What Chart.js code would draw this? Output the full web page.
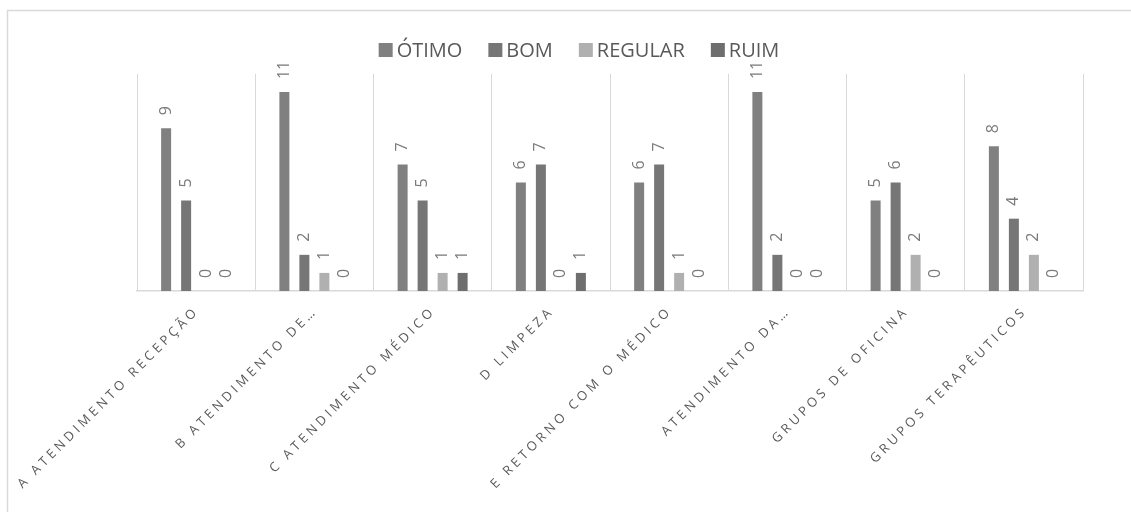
<!DOCTYPE html>
<html><head><meta charset="utf-8">
<script src="https://cdn.jsdelivr.net/npm/chart.js@4"></script>
<style>html,body{margin:0;padding:0;background:#fff;overflow:hidden}#wrap{position:absolute;left:0;top:0;width:1131px;height:512px}</style>
</head><body><div id="wrap"><canvas id="c" width="1131" height="512"></canvas></div>
<script>
const categories = ['A ATENDIMENTO RECEPÇÃO','B ATENDIMENTO DE…','C ATENDIMENTO MÉDICO','D LIMPEZA','E RETORNO COM O MÉDICO','ATENDIMENTO DA…','GRUPOS DE OFICINA','GRUPOS TERAPÊUTICOS'];
const seriesNames = ['ÓTIMO','BOM','REGULAR','RUIM'];
const otimo = [9,11,7,6,6,11,5,8];
const bom = [5,2,5,7,7,2,6,4];
const regular = [0,1,1,0,1,0,2,2];
const ruim = [0,0,1,1,0,0,0,0];
const yMax = 12;
const colors = ['#808080','#767676','#b0b0b0','#6e6e6e'];
const seriesData = [otimo,bom,regular,ruim];

const framePlugin = {
  id:'frame',
  beforeDraw(chart){
    const ctx = chart.ctx;
    ctx.save();
    ctx.fillStyle='#fff';ctx.fillRect(0,0,chart.width,chart.height);
    ctx.strokeStyle='#d9d9d9';ctx.lineWidth=1.5;
    ctx.beginPath();ctx.moveTo(7.5,chart.height);ctx.lineTo(7.5,10.5);ctx.lineTo(chart.width,10.5);ctx.stroke();
    // legend
    ctx.font='20px "Open Sans"';ctx.textBaseline='middle';ctx.textAlign='left';
    const box=14, gap=4, itemGap=26;
    let widths = seriesNames.map(n=>box+gap+ctx.measureText(n).width);
    let total = widths.reduce((a,b)=>a+b,0)+itemGap*(seriesNames.length-1);
    let x = 579 - total/2; const cy = 50;
    seriesNames.forEach((n,i)=>{
      ctx.fillStyle=colors[i];ctx.fillRect(x,cy-7,box,box);
      ctx.fillStyle='#595959';ctx.fillText(n,x+box+gap,cy+1);
      x += widths[i]+itemGap;
    });
    ctx.restore();
  }
};
const labelPlugin = {
  id:'labels',
  afterDatasetsDraw(chart){
    const ctx = chart.ctx;
    ctx.save();
    ctx.font='16px "Open Sans"';ctx.fillStyle='#7a7a7a';ctx.textAlign='left';ctx.textBaseline='middle';
    chart.data.datasets.forEach((ds,di)=>{
      chart.getDatasetMeta(di).data.forEach((bar,i)=>{
        ctx.save();ctx.translate(bar.x, bar.y-13);ctx.rotate(-Math.PI/2);
        ctx.fillText(String(ds.data[i]),0,0);ctx.restore();
      });
    });
    // x labels
    const xs = chart.scales.x;
    ctx.font='13px "Open Sans"';ctx.fillStyle='#595959';ctx.textAlign='right';ctx.textBaseline='middle';
    ctx.letterSpacing='3.6px';
    categories.forEach((c,i)=>{
      const px = xs.getPixelForValue(i);
      ctx.save();ctx.translate(px+1, xs.bottom+18);ctx.rotate(-Math.PI/4);
      ctx.fillText(c,0,0);ctx.restore();
    });
    ctx.restore();
  }
};
new Chart(document.getElementById('c'),{
  type:'bar',
  data:{labels:categories,datasets:seriesNames.map((n,i)=>({label:n,data:seriesData[i],backgroundColor:colors[i],categoryPercentage:0.6765,barPercentage:0.5}))},
  options:{
    responsive:false,animation:false,devicePixelRatio:1,
    layout:{padding:{left:137,right:48,top:74,bottom:221}},
    plugins:{legend:{display:false},tooltip:{enabled:false}},
    scales:{
      x:{offset:true,grid:{color:'#d9d9d9',drawTicks:false,offset:true},border:{color:'#d9d9d9',width:1.5},ticks:{display:false}},
      y:{display:false,min:0,max:yMax}
    }
  },
  plugins:[framePlugin,labelPlugin]
});
</script></body></html>
